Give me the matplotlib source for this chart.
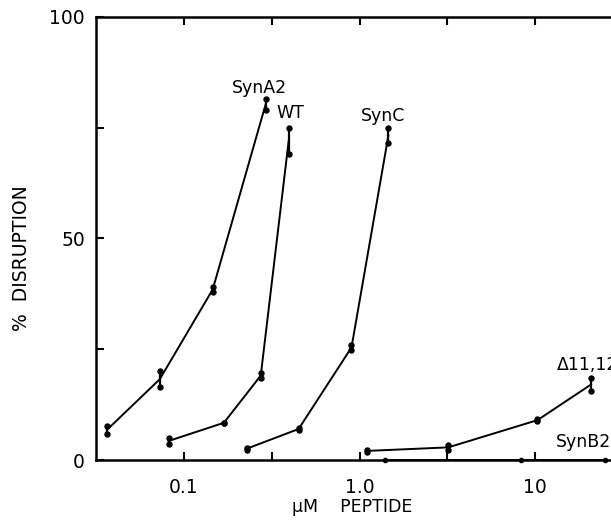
import matplotlib
matplotlib.use("Agg")
import matplotlib.pyplot as plt
import numpy as np

# peptide concentration (uM) and two replicate readings of % disruption
syna2_x = [0.0365, 0.073, 0.146, 0.292]
syna2_a = [7.7, 20.0, 39.0, 81.5]
syna2_b = [5.9, 16.5, 38.0, 79.0]

wt_x = [0.082, 0.169, 0.274, 0.395]
wt_a = [5.0, 8.4, 19.6, 75.0]
wt_b = [3.6, 8.4, 18.5, 69.0]

sync_x = [0.228, 0.45, 0.90, 1.46]
sync_a = [2.8, 7.2, 26.0, 75.0]
sync_b = [2.3, 6.8, 24.8, 71.5]

d1112_x = [1.1, 3.2, 10.3, 20.8]
d1112_a = [2.2, 3.4, 9.2, 18.5]
d1112_b = [1.9, 2.3, 8.8, 15.6]

synb2_x = [1.39, 8.3, 25.0]
synb2_y = [0.0, 0.0, 0.0]

curve_labels = ["SynA2", "WT", "SynC", "\u039411,12", "SynB2"]
label_x = [0.27, 0.405, 1.37, 13.2, 13.1]
label_y = [84.0, 78.3, 77.6, 21.4, 4.1]
label_ha = ["center", "center", "center", "left", "left"]

y_ticks = [0, 50, 100]
y_minor = [25, 75]
x_ticks = [0.1, 1.0, 10.0]
x_tick_labels = ["0.1", "1.0", "10"]
x_minor = [0.316, 3.16]

plt.rcParams["font.family"] = ["DejaVu Sans"]

fig = plt.figure(figsize=(6.11, 5.23), dpi=100)
ax = fig.add_axes([96 / 611, 63 / 523, 515 / 611, 443 / 523])

for xs, ya, yb in [
    (syna2_x, syna2_a, syna2_b),
    (wt_x, wt_a, wt_b),
    (sync_x, sync_a, sync_b),
    (d1112_x, d1112_a, d1112_b),
]:
    ym = (np.array(ya) + np.array(yb)) / 2
    ax.plot(xs, ym, color="black", lw=1.4, clip_on=False)
    ax.vlines(xs, yb, ya, color="black", lw=1.6, clip_on=False)
    ax.plot(xs, ya, "o", color="black", ms=3.6, clip_on=False)
    ax.plot(xs, yb, "o", color="black", ms=3.6, clip_on=False)

ax.plot(synb2_x, synb2_y, color="black", lw=1.4, marker="o", ms=3.0, clip_on=False)

for text, lx, ly, ha in zip(curve_labels, label_x, label_y, label_ha):
    ax.text(lx, ly, text, ha=ha, va="center", fontsize=12.5)

ax.set_xscale("log")
ax.set_xlim(10 ** -1.5, 27)
ax.set_ylim(0, 100)

ax.set_xticks(x_ticks)
ax.set_xticklabels(x_tick_labels)
ax.set_xticks(x_minor, minor=True)
ax.set_yticks(y_ticks)
ax.set_yticks(y_minor, minor=True)

ax.spines["right"].set_visible(False)
for side in ["left", "bottom", "top"]:
    ax.spines[side].set_linewidth(1.8)

ax.tick_params(axis="both", which="both", direction="in", width=1.5, labelsize=13.5)
ax.tick_params(axis="both", which="both", length=6)
ax.tick_params(axis="x", which="both", top=True, pad=13)
ax.tick_params(axis="y", which="both", pad=8)

fig.text(22 / 611, 1 - 258 / 523, "%  DISRUPTION", rotation=90,
         ha="center", va="center", fontsize=13.5)
fig.text(352 / 611, 1 - 507 / 523, "\u00b5M    PEPTIDE",
         ha="center", va="center", fontsize=12.5)

fig.savefig("out.png", dpi=100)
